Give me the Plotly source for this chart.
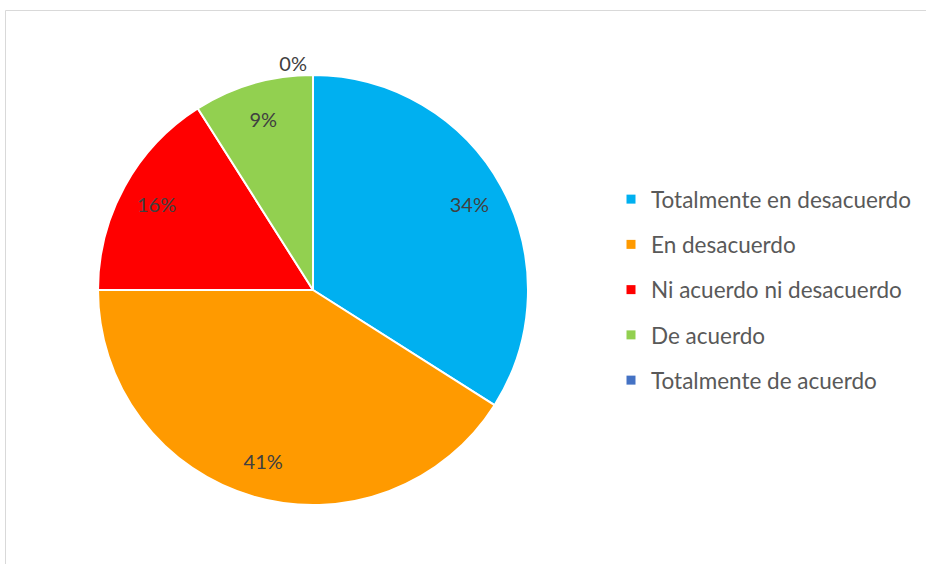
import plotly.graph_objects as go

labels = ["Totalmente en desacuerdo", "En desacuerdo", "Ni acuerdo ni desacuerdo",
          "De acuerdo", "Totalmente de acuerdo"]
values = [34, 41, 16, 9, 0]
colors = ["#00B0F0", "#FF9A00", "#FF0000", "#92D050", "#4472C4"]
text_pos = ["inside", "inside", "inside", "inside", "outside"]

pie_domain = dict(x=[98 / 926, 528 / 926], y=[1 - 505 / 564, 1 - 75 / 564])

fig = go.Figure()
# filled slices
fig.add_trace(go.Pie(
    labels=labels, values=values,
    sort=False, direction="clockwise", rotation=0,
    marker=dict(colors=colors, line=dict(color="white", width=2)),
    textinfo="none", domain=pie_domain,
    showlegend=False, hoverinfo="label+percent",
))
# transparent ring on top, only to place the % labels out toward the rim
fig.add_trace(go.Pie(
    labels=labels, values=values, hole=0.66,
    sort=False, direction="clockwise", rotation=0,
    marker=dict(colors=["rgba(0,0,0,0)"] * len(values), line=dict(width=0)),
    texttemplate="%{value}%", textposition=text_pos,
    insidetextorientation="horizontal",
    textfont=dict(family="Lato", size=20, color="#404040"),
    domain=pie_domain, showlegend=False, hoverinfo="skip",
))

# legend entries as separate groups so the row gap can be set
for i, (lab, col) in enumerate(zip(labels, colors)):
    fig.add_trace(go.Scatter(
        x=[None], y=[None], mode="markers", name=lab, legendgroup=str(i),
        marker=dict(symbol="square", size=9, color=col),
    ))

fig.update_layout(
    width=926, height=564,
    margin=dict(l=0, r=0, t=0, b=0),
    paper_bgcolor="white", plot_bgcolor="white",
    xaxis=dict(visible=False), yaxis=dict(visible=False),
    legend=dict(x=611 / 926, y=1 - 178 / 564, xanchor="left", yanchor="top",
                font=dict(family="Lato", size=22.5, color="#595959"),
                tracegroupgap=13, itemwidth=30),
    shapes=[dict(type="rect", xref="paper", yref="paper",
                 x0=5.5 / 926, x1=1.01, y0=-0.01, y1=1 - 10.5 / 564,
                 line=dict(color="#D9D9D9", width=1))],
)

fig.write_html("out.html", config={"displayModeBar": False},
               post_script="document.body.style.margin='0';")
